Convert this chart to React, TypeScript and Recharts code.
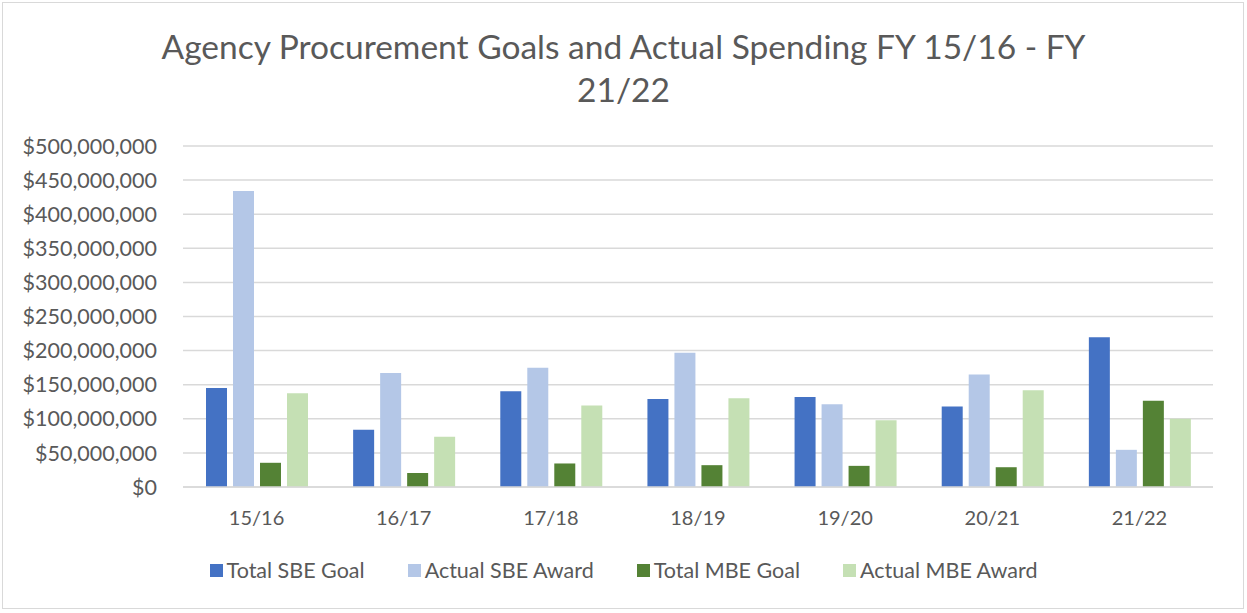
import {
  BarChart,
  Bar,
  XAxis,
  YAxis,
  CartesianGrid,
  Legend,
} from 'recharts';

const years = ['15/16', '16/17', '17/18', '18/19', '19/20', '20/21', '21/22'];
const totalSbeGoal = [145, 84, 140.5, 129, 132, 118, 219.5];
const actualSbeAward = [434, 167, 175, 197, 121.5, 165, 54.5];
const totalMbeGoal = [35.5, 20.5, 34.5, 32, 31, 29, 126.5];
const actualMbeAward = [137.5, 73.5, 119.5, 130, 98, 142, 100];
const yTicks = [0, 50, 100, 150, 200, 250, 300, 350, 400, 450, 500].map(
  (m) => m * 1000000,
);

const series = [
  { key: 'sbeGoal', name: 'Total SBE Goal', color: '#4472C4' },
  { key: 'sbeAward', name: 'Actual SBE Award', color: '#B4C7E7' },
  { key: 'mbeGoal', name: 'Total MBE Goal', color: '#548235' },
  { key: 'mbeAward', name: 'Actual MBE Award', color: '#C5E0B4' },
];

const data = years.map((name, i) => ({
  name,
  sbeGoal: totalSbeGoal[i] * 1000000,
  sbeAward: actualSbeAward[i] * 1000000,
  mbeGoal: totalMbeGoal[i] * 1000000,
  mbeAward: actualMbeAward[i] * 1000000,
}));

const FONT = 'Lato, "Open Sans", sans-serif';
const TEXT = '#595959';

function LegendRow() {
  return (
    <div
      style={{
        display: 'flex',
        justifyContent: 'center',
        gap: 43,
        fontFamily: FONT,
        fontSize: 21.5,
        color: TEXT,
      }}
    >
      {series.map((s) => (
        <div key={s.key} style={{ display: 'flex', alignItems: 'center' }}>
          <span
            style={{
              display: 'inline-block',
              width: 13,
              height: 13,
              background: s.color,
              marginRight: 4,
            }}
          />
          <span>{s.name}</span>
        </div>
      ))}
    </div>
  );
}

export default function App() {
  return (
    <div
      style={{
        position: 'absolute',
        left: 0,
        top: 0,
        width: 1247,
        height: 613,
        background: '#fff',
      }}
    >
      <div
        style={{
          position: 'absolute',
          left: 2,
          top: 2,
          width: 1240,
          height: 605,
          border: '1px solid #d9d9d9',
        }}
      />
      <div
        style={{
          position: 'absolute',
          left: 0,
          top: 25,
          width: 1247,
          textAlign: 'center',
          fontFamily: FONT,
          fontSize: 33.5,
          lineHeight: '43px',
          color: TEXT,
        }}
      >
        <div>Agency Procurement Goals and Actual Spending FY 15/16 - FY</div>
        <div>21/22</div>
      </div>
      <div style={{ position: 'absolute', left: 0, top: 0 }}>
        <BarChart
          width={1247}
          height={613}
          data={data}
          margin={{ top: 146, right: 34, bottom: 56, left: 0 }}
          barSize={21}
          barGap={6}
        >
          <CartesianGrid
            vertical={false}
            stroke="#d9d9d9"
            strokeWidth={1.5}
          />
          <XAxis
            dataKey="name"
            height={30}
            axisLine={{ stroke: '#d9d9d9', strokeWidth: 1.5 }}
            tickLine={false}
            tickSize={0}
            tickMargin={24}
            tick={{ fill: TEXT, fontSize: 20, fontFamily: FONT }}
          />
          <YAxis
            width={183}
            domain={[0, 500000000]}
            ticks={yTicks}
            interval={0}
            axisLine={false}
            tickLine={false}
            tickSize={0}
            tickMargin={26}
            tick={{ fill: TEXT, fontSize: 21.5, fontFamily: FONT }}
            tickFormatter={(v: number) => `$${v.toLocaleString('en-US')}`}
          />
          <Legend
            verticalAlign="bottom"
            height={40}
            content={() => <LegendRow />}
            wrapperStyle={{ top: 557, bottom: 'auto', left: 0, width: 1247 }}
          />
          {series.map((s) => (
            <Bar
              key={s.key}
              dataKey={s.key}
              name={s.name}
              fill={s.color}
              isAnimationActive={false}
            />
          ))}
        </BarChart>
      </div>
    </div>
  );
}
